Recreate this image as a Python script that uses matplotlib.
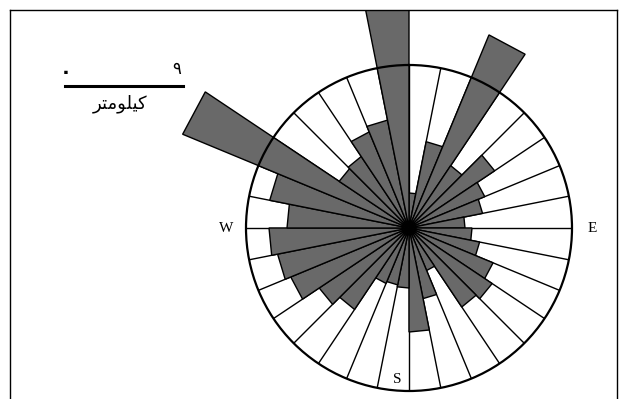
import numpy as np
import matplotlib
matplotlib.use("Agg")
import matplotlib.pyplot as plt
from matplotlib.lines import Line2D
from matplotlib.patches import Rectangle

# rose diagram: 32 sectors of 11.25 deg, clockwise from north
n_sectors = 32
sector_width = 360.0 / n_sectors
lengths = [35, 88, 209, 75, 103, 82, 75, 56,
           63, 72, 91, 100, 95, 46, 72, 104,
           60, 58, 60, 98, 108, 128, 134, 140,
           122, 142, 245, 84, 86, 104, 110, 226]
circle_radius = 163
compass = {"W": 270, "E": 90, "S": 180}

# scale bar (persian digits), label "kilometre"
scale_ticks = ["\u06f0", "\u06f9"]
scale_label = "کیلومتر"
# matplotlib does not join arabic letters, so use presentation forms in visual order
scale_label_shaped = "\ufeae\ufe98\ufee3\ufeee\ufee0\ufbff\ufb90"

W, H = 627, 399
fig = plt.figure(figsize=(W / 100, H / 100), dpi=100)
fig.patch.set_facecolor("white")

def fx(px):
    return px / W

def fy(py):
    return 1 - py / H

cx, cy = 409, 228
ax = fig.add_axes([fx(cx - circle_radius), fy(cy + circle_radius),
                   2 * circle_radius / W, 2 * circle_radius / H],
                  projection="polar")
ax.set_theta_zero_location("N")
ax.set_theta_direction(-1)
ax.set_ylim(0, circle_radius)
ax.set_xticks([])
ax.set_yticks([])
ax.grid(False)
ax.spines["polar"].set_linewidth(1.6)
ax.spines["polar"].set_zorder(5)

# frame, used also to clip the long petals
clip_rect = Rectangle((fx(10), 0), fx(617) - fx(10), fy(10), transform=fig.transFigure)

edges = np.deg2rad(np.arange(n_sectors + 1) * sector_width)
for t in edges[:-1]:
    ax.plot([t, t], [0, circle_radius], color="black", lw=1.0, zorder=1)

for i, r in enumerate(lengths):
    t0, t1 = edges[i], edges[i + 1]
    poly = ax.fill([t0, t0, t1], [0, r, r], facecolor="#696969",
                   edgecolor="black", lw=1.0, zorder=2)[0]
    poly.set_clip_path(clip_rect)

for lab, ang in compass.items():
    t = np.deg2rad(ang)
    if lab == "S":
        ax.text(t + np.deg2rad(4.5), circle_radius - 11, lab, ha="center", va="center",
                family="Liberation Serif", fontsize=11, zorder=6, clip_on=False)
    else:
        ax.text(t, circle_radius + 20, lab, ha="center", va="center",
                family="Liberation Serif", fontsize=11, zorder=6, clip_on=False)

# frame lines (top, left, right)
for xs, ys in [([10, 617], [10, 10]), ([10, 10], [10, 399]), ([617, 617], [10, 399])]:
    fig.add_artist(Line2D([fx(x) for x in xs], [fy(y) for y in ys], color="black", lw=1.0))

# scale bar
fig.add_artist(Line2D([fx(65), fx(183)], [fy(86), fy(86)], color="black", lw=2.2))
fig.text(fx(66), fy(72), scale_ticks[0], ha="center", va="center",
         family="DejaVu Sans", fontsize=14, fontweight="bold")
fig.text(fx(177), fy(69), scale_ticks[1], ha="center", va="center",
         family="DejaVu Sans", fontsize=12)
fig.text(fx(120), fy(104), scale_label_shaped, ha="center", va="center",
         family="DejaVu Sans", fontsize=13)

fig.savefig("out.png", dpi=100)
